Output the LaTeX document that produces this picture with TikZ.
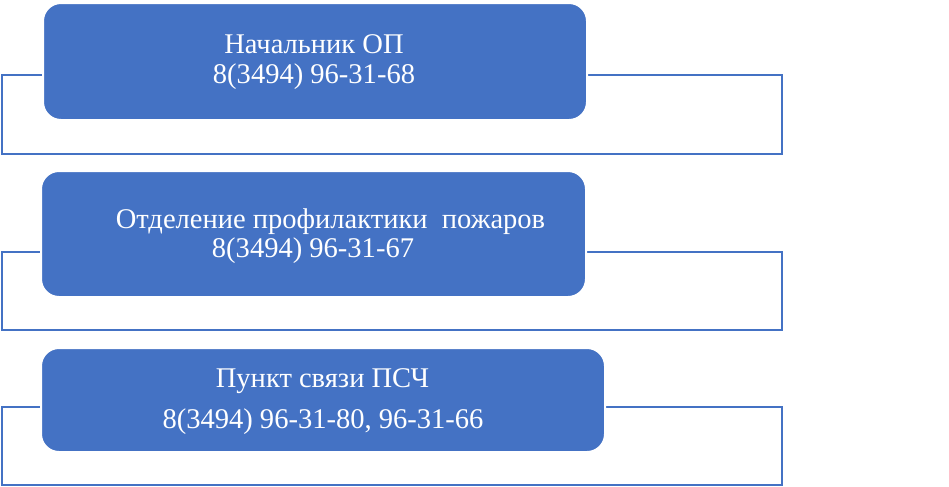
\documentclass[tikz,border=0pt]{standalone}
\usepackage{fontspec}
\setmainfont{Liberation Serif}
\definecolor{obl}{HTML}{4472C4}
\begin{document}
\begin{tikzpicture}[x=0.75pt,y=-0.75pt,
  frame/.style={draw=obl, line width=1pt, rectangle, inner sep=0pt, minimum width=585pt},
  box/.style={fill=obl, draw=white, line width=1.5pt, rectangle, rounded corners=13.5pt, inner sep=0pt},
  txt/.style={text=white, font=\fontsize{21.4}{25}\selectfont, anchor=base, inner sep=0pt}]
\useasboundingbox (0,0) rectangle (949,486);
% frames behind the boxes
\node[frame, minimum height=59.25pt] (f1) at (392,114.5) {};
\node[frame, minimum height=58.5pt] (f2) at (392,291) {};
\node[frame, minimum height=58.5pt] (f3) at (392,446) {};
% boxes
\node[box, minimum width=408pt, minimum height=87.75pt] (b1) at (315,61.5) {};
\node[box, minimum width=408.75pt, minimum height=94.5pt] (b2) at (313.5,234) {};
\node[box, minimum width=423pt, minimum height=78pt] (b3) at (323,400) {};
% texts
\node[txt] (t1a) at (314,53) {Начальник ОП};
\node[txt] (t1b) at (314,83) {8(3494) 96-31-68};
\node[txt] (t2a) at (330.5,228) {Отделение профилактики\ \ пожаров};
\node[txt] (t2b) at (313,257) {8(3494) 96-31-67};
\node[txt] (t3a) at (322.5,387) {Пункт связи ПСЧ};
\node[txt] (t3b) at (323,428) {8(3494) 96-31-80, 96-31-66};
\end{tikzpicture}
\end{document}
